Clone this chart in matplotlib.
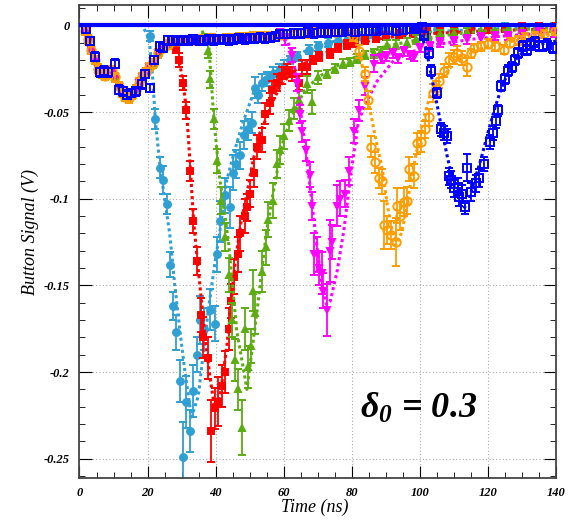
import numpy as np
import matplotlib.pyplot as plt
from matplotlib.ticker import MultipleLocator, FuncFormatter

plt.rcParams['font.family'] = 'Liberation Serif'
plt.rcParams['font.weight'] = 'bold'
plt.rcParams['font.style'] = 'italic'
plt.rcParams['axes.unicode_minus'] = False
plt.rcParams['mathtext.fontset'] = 'custom'
plt.rcParams['mathtext.rm'] = 'Liberation Serif:bold'
plt.rcParams['mathtext.it'] = 'Liberation Serif:bold:italic'

# shared precursor (all bunches see the same wake before the pulse)
pre_t = [1.5, 2.5, 3.5, 4.5, 5.5, 6.5, 7.5, 8.5, 9.5, 10.5, 11.5, 12.5, 13.5, 14.5, 15.5, 16.5, 17.5, 18.5, 19.5, 20.5]
pre_v = [-0.003, -0.008, -0.014, -0.020, -0.025, -0.028, -0.029, -0.028, -0.026, -0.030,
         -0.035, -0.039, -0.041, -0.042, -0.040, -0.037, -0.033, -0.030, -0.027, -0.024]
early_t = [21.5, 23, 24.5, 26, 27.5, 29, 31, 33, 35, 37, 39, 41, 43, 45, 47, 49, 51, 53, 55, 57,
           59, 61, 63, 65, 67, 69, 71, 73, 75, 77, 79]
early_v = [-0.022, -0.016, -0.013, -0.011, -0.009, -0.009, -0.0085, -0.0085, -0.008, -0.008,
           -0.0075, -0.008, -0.0075, -0.0075, -0.007, -0.007, -0.0065, -0.0065, -0.006, -0.006,
           -0.0055, -0.005, -0.005, -0.0045, -0.0045, -0.004, -0.004, -0.0035, -0.0035, -0.003, -0.003]
tail_err = 0.0025

# cyan
cyan_t = [20.6, 22.1, 23.6, 24.6, 25.6, 26.5, 27.5, 28.5, 29.5, 30.4, 31.4, 32.4, 33.4, 34.4, 35.5,
          36.5, 38.4, 39.8, 40.5, 41.3, 42.8, 44.2, 45.0, 46.0, 47.2, 48.2, 49.5, 50.6, 51.6, 52.5,
          53.6, 55.0, 57.0, 58.5, 60.0]
cyan_v = [-0.006, -0.054, -0.082, -0.089, -0.103, -0.138, -0.162, -0.177, -0.205, -0.249, -0.217,
          -0.234, -0.211, -0.190, -0.170, -0.175, -0.164, -0.172, -0.132, -0.113, -0.098, -0.105,
          -0.085, -0.080, -0.075, -0.063, -0.060, -0.056, -0.036, -0.040, -0.033, -0.031, -0.028,
          -0.026, -0.024]
cyan_e = [0.003, 0.006, 0.006, 0.008, 0.006, 0.007, 0.008, 0.010, 0.012, 0.020, 0.015, 0.012,
          0.015, 0.010, 0.014, 0.012, 0.012, 0.010, 0.010, 0.012, 0.010, 0.012, 0.010, 0.008,
          0.008, 0.008, 0.006, 0.006, 0.006, 0.005, 0.005, 0.004, 0.004, 0.004, 0.004]
cyan_tail_t = [62, 64, 67.4, 70, 73, 76, 79, 82, 86, 90, 95, 100, 105, 110, 115, 120, 125, 130, 135, 139.5]
cyan_tail_v = [-0.020, -0.018, -0.014, -0.012, -0.010, -0.009, -0.007, -0.006, -0.005, -0.004,
               -0.003, -0.003, -0.002, -0.002, -0.0015, -0.0015, -0.001, -0.001, -0.001, -0.001]
cyan_fit_t = [19, 20.5, 21.5, 22.3, 23.6, 25, 26.5, 28, 29.5, 31, 32.9, 34.9, 35.9, 37.8, 39.8,
              41.3, 43.3, 46.2, 48.2, 51.1, 54, 57, 61, 67, 75, 85, 100, 120, 140]
cyan_fit_v = [-0.002, -0.008, -0.03, -0.055, -0.08, -0.1, -0.12, -0.15, -0.176, -0.2, -0.226,
              -0.214, -0.197, -0.165, -0.137, -0.118, -0.089, -0.068, -0.055, -0.039, -0.031,
              -0.026, -0.021, -0.014, -0.009, -0.006, -0.004, -0.002, -0.001]

# red
red_t = [27.0, 28.3, 29.3, 30.3, 31.4, 32.6, 33.4, 34.6, 35.6, 36.4, 37.9, 38.6, 39.8, 40.8, 41.8,
         42.8, 43.8, 44.5, 45.5, 46.5, 47.2, 48.5, 49.3, 50.2, 51.2, 52.1, 53.6, 54.6, 56.1, 56.6,
         58.0, 59.5, 61.0, 62.5, 64.4, 65.5, 66.8]
red_v = [-0.010, -0.013, -0.020, -0.033, -0.049, -0.084, -0.113, -0.136, -0.167, -0.180, -0.192,
         -0.234, -0.221, -0.217, -0.208, -0.200, -0.175, -0.159, -0.145, -0.132, -0.120, -0.110,
         -0.105, -0.097, -0.085, -0.070, -0.066, -0.051, -0.045, -0.037, -0.033, -0.029, -0.026,
         -0.028, -0.033, -0.024, -0.024]
red_e = [0.003, 0.003, 0.004, 0.004, 0.005, 0.006, 0.007, 0.008, 0.010, 0.012, 0.012, 0.018,
         0.012, 0.014, 0.012, 0.012, 0.012, 0.010, 0.010, 0.010, 0.010, 0.010, 0.008, 0.008,
         0.008, 0.007, 0.007, 0.006, 0.006, 0.005, 0.005, 0.005, 0.004, 0.004, 0.004, 0.004, 0.004]
red_tail_t = [68.5, 70.5, 73.7, 76, 78.6, 81, 84, 87, 90, 94, 98, 102, 106, 110, 115, 120, 125, 130, 135, 140]
red_tail_v = [-0.020, -0.018, -0.016, -0.013, -0.011, -0.010, -0.008, -0.007, -0.006, -0.005,
              -0.004, -0.003, -0.003, -0.0025, -0.002, -0.002, -0.0015, -0.001, -0.001, -0.001]
red_fit_t = [27, 29.3, 30.5, 31.5, 32.6, 33.5, 34.6, 35.9, 37.2, 38.5, 39.8, 41.3, 43.3, 45.7,
             47.5, 49.2, 51, 53, 55, 57, 59, 62, 66, 72, 80, 90, 100, 120, 140]
red_fit_v = [-0.008, -0.02, -0.034, -0.05, -0.083, -0.112, -0.135, -0.16, -0.185, -0.205, -0.222,
             -0.214, -0.185, -0.137, -0.113, -0.097, -0.078, -0.062, -0.053, -0.043, -0.035,
             -0.028, -0.022, -0.016, -0.011, -0.007, -0.005, -0.003, -0.002]

# green
green_t = [36.8, 37.9, 38.4, 39.5, 40.5, 41.6, 42.7, 43.8, 44.7, 45.7, 46.5, 47.7, 48.7, 49.6, 50.4,
           51.1, 51.6, 53.6, 54.9, 55.5, 57.0, 58.0, 59.0, 60.0, 61.5, 63.0, 64.4, 66.8, 68.3, 70.0]
green_v = [-0.008, -0.015, -0.031, -0.054, -0.078, -0.101, -0.122, -0.144, -0.170, -0.193, -0.210,
           -0.232, -0.175, -0.197, -0.185, -0.153, -0.166, -0.142, -0.128, -0.112, -0.101, -0.080,
           -0.072, -0.064, -0.055, -0.048, -0.043, -0.034, -0.044, -0.030]
green_e = [0.003, 0.004, 0.005, 0.006, 0.007, 0.008, 0.008, 0.010, 0.010, 0.012, 0.012, 0.016,
           0.012, 0.012, 0.010, 0.012, 0.012, 0.012, 0.010, 0.010, 0.010, 0.008, 0.008, 0.007,
           0.006, 0.006, 0.005, 0.005, 0.007, 0.004]
green_tail_t = [72.8, 75, 77.5, 79.5, 81.6, 84, 86.6, 88.5, 90.4, 93, 96.3, 99, 102.3, 106, 110,
                114, 118, 122, 126, 130, 134, 139]
green_tail_v = [-0.028, -0.025, -0.022, -0.021, -0.019, -0.017, -0.016, -0.015, -0.011, -0.011,
                -0.010, -0.008, -0.006, -0.005, -0.0045, -0.004, -0.003, -0.0025, -0.002, -0.002,
                -0.0015, -0.0015]
green_fit_t = [36, 38, 39.5, 41, 43.8, 46.2, 49.2, 52.1, 55, 57.5, 60, 63, 66, 70, 75, 80, 90,
               100, 110, 120, 140]
green_fit_v = [-0.003, -0.012, -0.054, -0.085, -0.125, -0.176, -0.21, -0.166, -0.118, -0.09,
               -0.065, -0.05, -0.038, -0.03, -0.024, -0.019, -0.012, -0.008, -0.005, -0.003, -0.0015]

# magenta
mag_t = [59.0, 60.5, 62.5, 63.9, 64.7, 65.5, 66.5, 67.7, 68.3, 68.8, 69.8, 70.3, 71.3, 71.7, 72.7,
         73.7, 74.2, 75.7, 76.5, 78.1, 79.1, 80.6, 82.1, 84.0, 86.6]
mag_v = [-0.005, -0.008, -0.017, -0.033, -0.051, -0.061, -0.072, -0.086, -0.104, -0.132, -0.132,
         -0.140, -0.143, -0.153, -0.164, -0.130, -0.125, -0.104, -0.100, -0.097, -0.084, -0.061,
         -0.049, -0.035, -0.022]
mag_e = [0.003, 0.003, 0.004, 0.005, 0.005, 0.006, 0.006, 0.007, 0.008, 0.012, 0.010, 0.010,
         0.012, 0.010, 0.015, 0.018, 0.010, 0.012, 0.010, 0.008, 0.008, 0.007, 0.006, 0.005, 0.005]
mag_tail_t = [88.5, 90, 92, 93.5, 95.4, 97, 98.3, 100, 103, 106, 110, 114, 118, 122, 126, 130, 135, 139.5]
mag_tail_v = [-0.019, -0.018, -0.016, -0.019, -0.015, -0.017, -0.018, -0.013, -0.012, -0.010,
              -0.009, -0.008, -0.007, -0.006, -0.006, -0.005, -0.004, -0.004]
mag_fit_t = [58, 60, 62, 63.5, 65, 66.5, 68, 69.5, 71, 72.6, 73.7, 75.7, 77.7, 79.5, 82, 84.6,
             87.5, 92.4, 98, 105, 115, 125, 140]
mag_fit_v = [-0.002, -0.005, -0.013, -0.027, -0.05, -0.072, -0.097, -0.123, -0.147, -0.161,
             -0.159, -0.142, -0.118, -0.089, -0.055, -0.043, -0.032, -0.020, -0.015, -0.011,
             -0.008, -0.006, -0.004]

# orange
orange_t = [80.5, 82.1, 83.9, 84.8, 85.6, 86.7, 88.0, 89.0, 89.5, 90.5, 91.5, 92.9, 93.4, 94.3,
            95.4, 96.3, 96.8, 98.3, 99.3, 100.3, 101.5, 102.8, 103.8, 104.8, 105.7, 107.0, 108.6,
            110.0, 111.0, 112.5, 114.0]
orange_v = [-0.006, -0.015, -0.028, -0.043, -0.070, -0.079, -0.088, -0.090, -0.115, -0.118, -0.121,
            -0.125, -0.104, -0.110, -0.102, -0.101, -0.083, -0.087, -0.068, -0.067, -0.060, -0.053,
            -0.039, -0.036, -0.032, -0.026, -0.020, -0.018, -0.016, -0.019, -0.024]
orange_e = [0.003, 0.004, 0.004, 0.005, 0.006, 0.006, 0.006, 0.007, 0.014, 0.008, 0.008, 0.014,
            0.010, 0.008, 0.008, 0.008, 0.007, 0.007, 0.006, 0.006, 0.005, 0.005, 0.005, 0.004,
            0.004, 0.004, 0.004, 0.004, 0.004, 0.004, 0.005]
orange_tail_t = [115, 116, 118, 120, 122, 124.8, 126.5, 128.8, 131, 133.8, 136.5, 139.6]
orange_tail_v = [-0.016, -0.013, -0.012, -0.0105, -0.012, -0.014, -0.010, -0.0085, -0.007, -0.006,
                 -0.005, -0.003]
orange_fit_t = [80, 82, 84, 85, 87, 89, 90.4, 91.5, 92.9, 94.5, 95.5, 97.3, 100.3, 103.2, 107,
                110, 115, 120, 130, 140]
orange_fit_v = [-0.002, -0.012, -0.033, -0.045, -0.065, -0.083, -0.103, -0.115, -0.127, -0.12,
                -0.112, -0.091, -0.060, -0.039, -0.029, -0.022, -0.016, -0.012, -0.008, -0.004]

# blue
blue_pre_t = [1.8, 3.0, 4.5, 6.0, 7.2, 8.4, 10.5, 11.5, 12.8, 14.0, 15.2, 16.5, 18.5, 19.2, 20.6,
              22, 23.6, 24.5, 26, 27.4, 29, 30.5, 32, 33.5, 35, 36.5, 38, 39.5, 41, 42.5, 44, 45.5,
              47, 48.5, 50, 51.5, 53, 54.5, 56, 57.5, 59, 61, 63, 65, 67, 69, 71, 73, 75, 77, 79,
              81, 83, 85, 87, 89, 91, 93, 95, 97, 99, 100.5]
blue_pre_v = [-0.002, -0.009, -0.018, -0.027, -0.026, -0.027, -0.022, -0.037, -0.038, -0.040,
              -0.039, -0.038, -0.034, -0.028, -0.036, -0.020, -0.012, -0.013, -0.0085, -0.0085,
              -0.009, -0.0085, -0.009, -0.008, -0.0085, -0.0085, -0.008, -0.0085, -0.008, -0.008,
              -0.0085, -0.008, -0.0075, -0.008, -0.0075, -0.0075, -0.007, -0.0075, -0.007, -0.0065,
              -0.005, -0.005, -0.0045, -0.0045, -0.004, -0.0045, -0.004, -0.004, -0.0035, -0.0035,
              -0.003, -0.0035, -0.003, -0.003, -0.003, -0.0025, -0.0025, -0.003, -0.0025, -0.002,
              -0.002, -0.001]
blue_t = [101.3, 102.8, 103.2, 105.0, 106.2, 107.0, 108.0, 108.7, 109.1, 110.0, 111.1, 111.6,
          112.4, 113.3, 113.9, 115.0, 116.5, 117.5, 119.0, 120.5, 121.5, 122.4, 122.9, 124.0,
          125.0, 126.0, 127.0, 128.0, 129.0, 130.4, 131.5, 132.5, 133.8, 135.0, 136.2, 137.5, 139.2]
blue_v = [-0.006, -0.016, -0.026, -0.039, -0.060, -0.062, -0.064, -0.087, -0.089, -0.094, -0.093,
          -0.099, -0.097, -0.105, -0.082, -0.096, -0.091, -0.088, -0.080, -0.067, -0.062, -0.055,
          -0.049, -0.035, -0.031, -0.026, -0.024, -0.020, -0.016, -0.012, -0.014, -0.011, -0.0095,
          -0.012, -0.012, -0.011, -0.013]
blue_e = [0.002, 0.003, 0.003, 0.003, 0.004, 0.004, 0.004, 0.005, 0.005, 0.005, 0.005, 0.005,
          0.005, 0.004, 0.008, 0.005, 0.005, 0.005, 0.004, 0.004, 0.004, 0.004, 0.003, 0.003,
          0.003, 0.003, 0.003, 0.003, 0.003, 0.003, 0.003, 0.003, 0.003, 0.003, 0.003, 0.003, 0.003]
blue_fit_t = [100, 102, 104, 106, 108, 110, 112, 113.2, 114.5, 116, 118, 120, 122, 124, 126, 128,
              131, 135, 140]
blue_fit_v = [-0.002, -0.015, -0.035, -0.055, -0.075, -0.092, -0.102, -0.105, -0.1, -0.09,
              -0.077, -0.062, -0.048, -0.036, -0.027, -0.02, -0.014, -0.011, -0.009]

base_t = [0, 140]
base_v = [0, 0]

delta_label = r'$\mathrm{\delta}_{\mathit{0}}$ = 0.3'


def join(parts_t, parts_v, parts_e):
    return np.concatenate(parts_t), np.concatenate(parts_v), np.concatenate(parts_e)


def head(t, v, stop):
    t = np.asarray(t)
    v = np.asarray(v)
    keep = t < stop
    return t[keep], v[keep], np.full(keep.sum(), tail_err)


fig = plt.figure(figsize=(5.74, 5.21), dpi=100)
ax = fig.add_axes([0.1385, 0.083, 0.83, 0.907])

series = []
# cyan
p = head(pre_t, pre_v, 20.5)
series.append((join([p[0], cyan_t, cyan_tail_t], [p[1], cyan_v, cyan_tail_v],
                    [p[2], cyan_e, np.full(len(cyan_tail_t), tail_err)]),
               cyan_fit_t, cyan_fit_v, '#2f9fd4', 'o', True))
# red
p = head(pre_t, pre_v, 21)
q = head(early_t, early_v, 26.5)
series.append((join([p[0], q[0], red_t, red_tail_t], [p[1], q[1], red_v, red_tail_v],
                    [p[2], q[2], red_e, np.full(len(red_tail_t), tail_err)]),
               red_fit_t, red_fit_v, '#ff0000', 's', True))
# green
q = head(early_t, early_v, 36)
series.append((join([p[0], q[0], green_t, green_tail_t], [p[1], q[1], green_v, green_tail_v],
                    [p[2], q[2], green_e, np.full(len(green_tail_t), tail_err)]),
               green_fit_t, green_fit_v, '#5cac12', '^', True))
# magenta
q = head(early_t, early_v, 58)
series.append((join([p[0], q[0], mag_t, mag_tail_t], [p[1], q[1], mag_v, mag_tail_v],
                    [p[2], q[2], mag_e, np.full(len(mag_tail_t), tail_err)]),
               mag_fit_t, mag_fit_v, '#ff00ff', 'v', True))
# orange
q = head(early_t, early_v, 80)
series.append((join([p[0], q[0], orange_t, orange_tail_t], [p[1], q[1], orange_v, orange_tail_v],
                    [p[2], q[2], orange_e, np.full(len(orange_tail_t), tail_err)]),
               orange_fit_t, orange_fit_v, '#ff9d00', 'o', False))
# blue
b = head(blue_pre_t, blue_pre_v, 101)
series.append((join([b[0], blue_t], [b[1], blue_v], [b[2], blue_e]),
               blue_fit_t, blue_fit_v, '#0000ff', 's', False))

for k, ((t, v, e), ft, fv, col, mk, filled) in enumerate(series):
    ax.plot(ft, fv, linestyle=(0, (1, 1)), color=col, lw=2.2, zorder=2 + k)
    ax.errorbar(t, v, yerr=e, fmt=mk, color=col, ms=5 if filled else 6,
                mfc=col if filled else 'none', mew=1.4, elinewidth=1.3, capsize=3,
                capthick=1.3, zorder=2 + k)

ax.plot(base_t, base_v, color='#0000ff', lw=3, zorder=10)

ax.set_xlim(0, 140)
ax.set_ylim(-0.261, 0.0117)
ax.xaxis.set_major_locator(MultipleLocator(20))
ax.xaxis.set_minor_locator(MultipleLocator(5))
ax.yaxis.set_major_locator(MultipleLocator(0.05))
ax.yaxis.set_minor_locator(MultipleLocator(0.01))
ax.xaxis.set_major_formatter(FuncFormatter(lambda x, _: '%g' % round(x, 3)))
ax.yaxis.set_major_formatter(FuncFormatter(lambda x, _: '%g' % round(x, 3)))
ax.tick_params(which='both', direction='in', top=True, right=True, labelsize=9, pad=7)
ax.tick_params(which='major', length=9)
ax.tick_params(which='minor', length=4.5)
ax.grid(True, which='major', linestyle=(0, (1, 2)), color='#aaaaaa', lw=0.8)
for s in ax.spines.values():
    s.set_linewidth(1.3)
    s.set_color('#444444')

ax.set_xlabel('Time (ns)', fontsize=13)
ax.set_ylabel('Button Signal (V)', fontsize=13)
ax.xaxis.set_label_coords(0.494, -0.045)
ax.yaxis.set_label_coords(-0.085, 0.52)

ax.text(82.5, -0.221, delta_label, fontsize=26, va='center', ha='left')

fig.savefig('out.png', dpi=100)
